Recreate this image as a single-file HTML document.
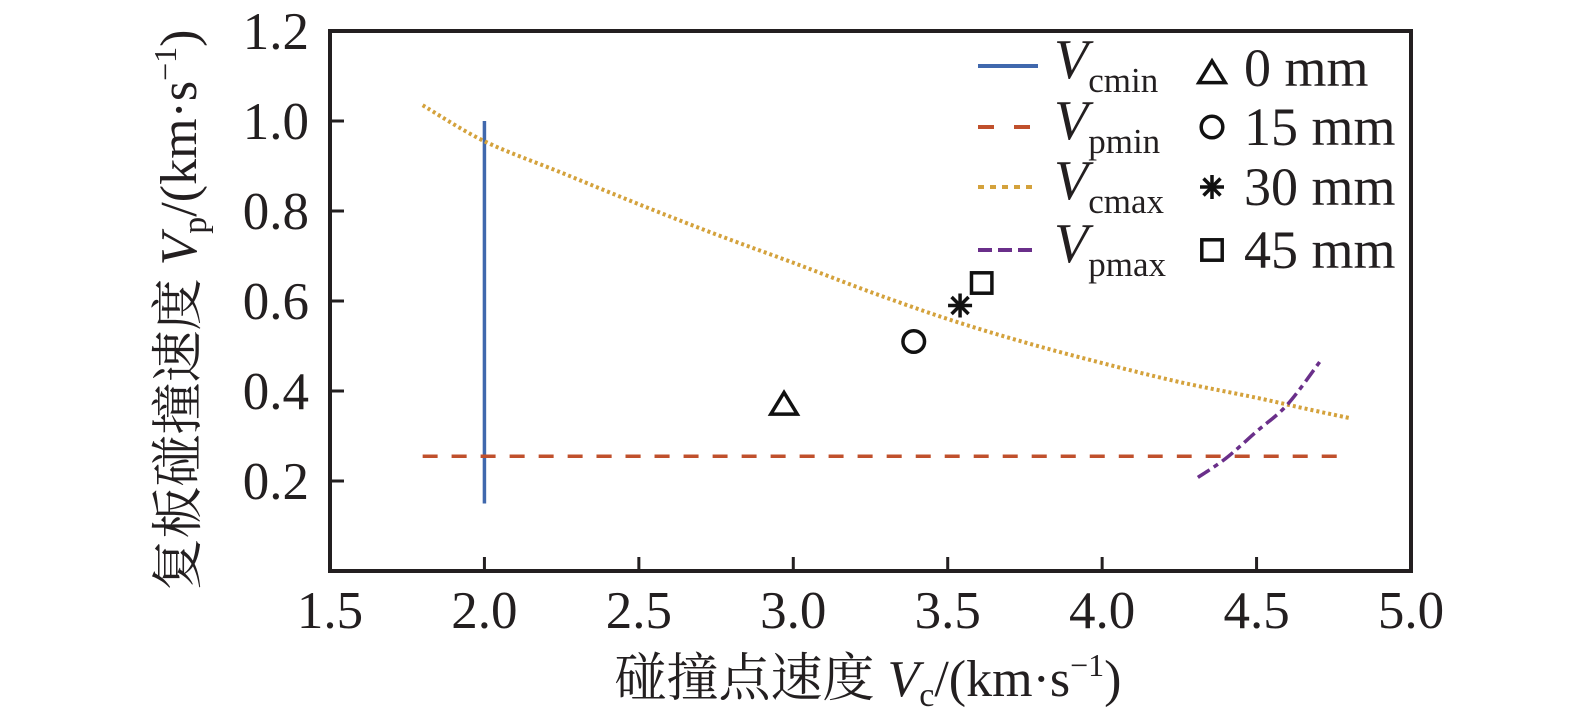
<!DOCTYPE html>
<html><head><meta charset="utf-8"><style>
html,body{margin:0;padding:0;background:#fff}
svg{display:block}
text{font-family:"Liberation Serif","Noto Serif CJK SC",serif;fill:#231f20}
</style></head><body>
<svg id="chart" width="1575" height="725" viewBox="0 0 1575 725">
<g id="plot"></g>
<g id="legend"></g>
<text x="868" y="696" text-anchor="middle" font-size="52">碰撞点速度 <tspan font-style="italic">V</tspan><tspan font-size="34" dy="10">c</tspan><tspan dy="-10">/(km·s</tspan><tspan font-size="32" dy="-20">−1</tspan><tspan dy="20">)</tspan></text>
<text transform="translate(196,310) rotate(-90)" text-anchor="middle" font-size="52">复板碰撞速度 <tspan font-style="italic">V</tspan><tspan font-size="34" dy="10">p</tspan><tspan dy="-10">/(km·s</tspan><tspan font-size="32" dy="-20">−1</tspan><tspan dy="20">)</tspan></text>
</svg>
<script>
const xTicks=[1.5,2.0,2.5,3.0,3.5,4.0,4.5,5.0];
const yTicks=[0.2,0.4,0.6,0.8,1.0,1.2];
const vcminX=[2.0,2.0];
const vcminY=[0.15,1.0];
const vpminX=[1.8,4.8];
const vpminY=[0.255,0.255];
const vcmaxX=[1.8,2.0,2.25,2.5,2.75,3.0,3.25,3.5,3.75,4.0,4.25,4.5,4.65,4.8];
const vcmaxY=[1.035,0.955,0.885,0.815,0.748,0.685,0.62,0.56,0.508,0.462,0.42,0.385,0.362,0.34];
const vpmaxX=[4.31,4.4,4.5,4.6,4.71];
const vpmaxY=[0.208,0.25,0.31,0.37,0.47];
const pointLabels=['0 mm','15 mm','30 mm','45 mm'];
const pointX=[2.97,3.39,3.54,3.61];
const pointY=[0.37,0.51,0.59,0.64];
const ns='http://www.w3.org/2000/svg';
const L=330,R=1411,T=31,B=571;
const sx=v=>L+(v-1.5)/(5.0-1.5)*(R-L);
const sy=v=>B-v/1.2*(B-T);
function mk(tag,attrs,parent){const e=document.createElementNS(ns,tag);for(const k in attrs)e.setAttribute(k,attrs[k]);parent.appendChild(e);return e;}
const plot=document.getElementById('plot');
const lg=document.getElementById('legend');
let f=mk('rect',{x:L,y:T,width:R-L,height:B-T,fill:'none',stroke:'#231f20','stroke-width':4},plot);


xTicks.forEach(t=>{
 const l=mk('line',{x1:sx(t),x2:sx(t),y1:B,y2:B-14,stroke:'#231f20','stroke-width':3},plot);
 
 
 const tx=mk('text',{x:sx(t),y:B+57,'text-anchor':'middle','font-size':53},plot);
 tx.textContent=t.toFixed(1);
 
 
});
yTicks.forEach(t=>{
 const l=mk('line',{x1:L,x2:L+14,y1:sy(t),y2:sy(t),stroke:'#231f20','stroke-width':3},plot);
 
 
 const tx=mk('text',{x:309,y:sy(t)+18,'text-anchor':'end','font-size':53},plot);
 tx.textContent=t.toFixed(1);
 
 
});
function line(xs,ys,color,dash,w,name){
 const pts=xs.map((x,i)=>[sx(x),sy(ys[i])]);
 let d='M'+pts[0][0]+','+pts[0][1];
 for(let i=0;i<pts.length-1;i++){
  const p0=pts[Math.max(0,i-1)],p1=pts[i],p2=pts[i+1],p3=pts[Math.min(pts.length-1,i+2)];
  d+=` C${p1[0]+(p2[0]-p0[0])/6},${p1[1]+(p2[1]-p0[1])/6} ${p2[0]-(p3[0]-p1[0])/6},${p2[1]-(p3[1]-p1[1])/6} ${p2[0]},${p2[1]}`;
 }
 const p=mk('path',{d:d,fill:'none',stroke:color,'stroke-width':w,'stroke-dasharray':dash},plot);
 
 
}
line(vcminX,vcminY,'#4068ad','none',3.5,'vcmin-line');
line(vpminX,vpminY,'#c0502c','15,14',3.5,'vpmin-line');
line(vcmaxX,vcmaxY,'#d4a23c','3,3',4,'vcmax-curve');
line(vpmaxX,vpmaxY,'#6a2f8a','14,5,5,5',3.5,'vpmax-curve');
function marker(kind,cx,cy,s,parent){
 const st={fill:'none',stroke:'#111','stroke-width':3.5};
 if(kind===0)return mk('polygon',Object.assign({points:`${cx},${cy-s} ${cx-s*1.1},${cy+s*0.8} ${cx+s*1.1},${cy+s*0.8}`},st),parent);
 if(kind===1)return mk('circle',Object.assign({cx:cx,cy:cy,r:s*0.9},st),parent);
 if(kind===3)return mk('rect',Object.assign({x:cx-s*0.85,y:cy-s*0.85,width:s*1.7,height:s*1.7},st),parent);
 const g=mk('g',{stroke:'#111','stroke-width':3.5},parent);
 for(let a=0;a<180;a+=45){const r=a*Math.PI/180;mk('line',{x1:cx-s*Math.sin(r),y1:cy-s*Math.cos(r),x2:cx+s*Math.sin(r),y2:cy+s*Math.cos(r)},g);}
 return g;
}
pointX.forEach((x,i)=>{
 const m=marker(i,sx(x),sy(pointY[i]),12,plot);
 
 
});
const legLines=[['cmin','#4068ad','none'],['pmin','#c0502c','16,20'],['cmax','#d4a23c','6,6'],['pmax','#6a2f8a','14,6']];
const rows=[66,127,187,250];
legLines.forEach((e,i)=>{
 const y=rows[i];
 const l=mk('line',{x1:978,x2:1038,y1:y,y2:y,stroke:e[1],'stroke-width':4,'stroke-dasharray':e[2]},lg);
 
 
 const t=mk('text',{x:1054,y:y+12,'font-size':56},lg);
 t.innerHTML='<tspan font-style="italic">V</tspan><tspan font-size="35" dy="14">'+e[0]+'</tspan>';
 
 
 const m=marker(i,1212,y+(i===0?7:0),12,lg);
 
 
 const t2=mk('text',{x:1244,y:y+(i===0?20:18),'font-size':54},lg);
 t2.textContent=pointLabels[i];
 
 
});
</script>
</body></html>
